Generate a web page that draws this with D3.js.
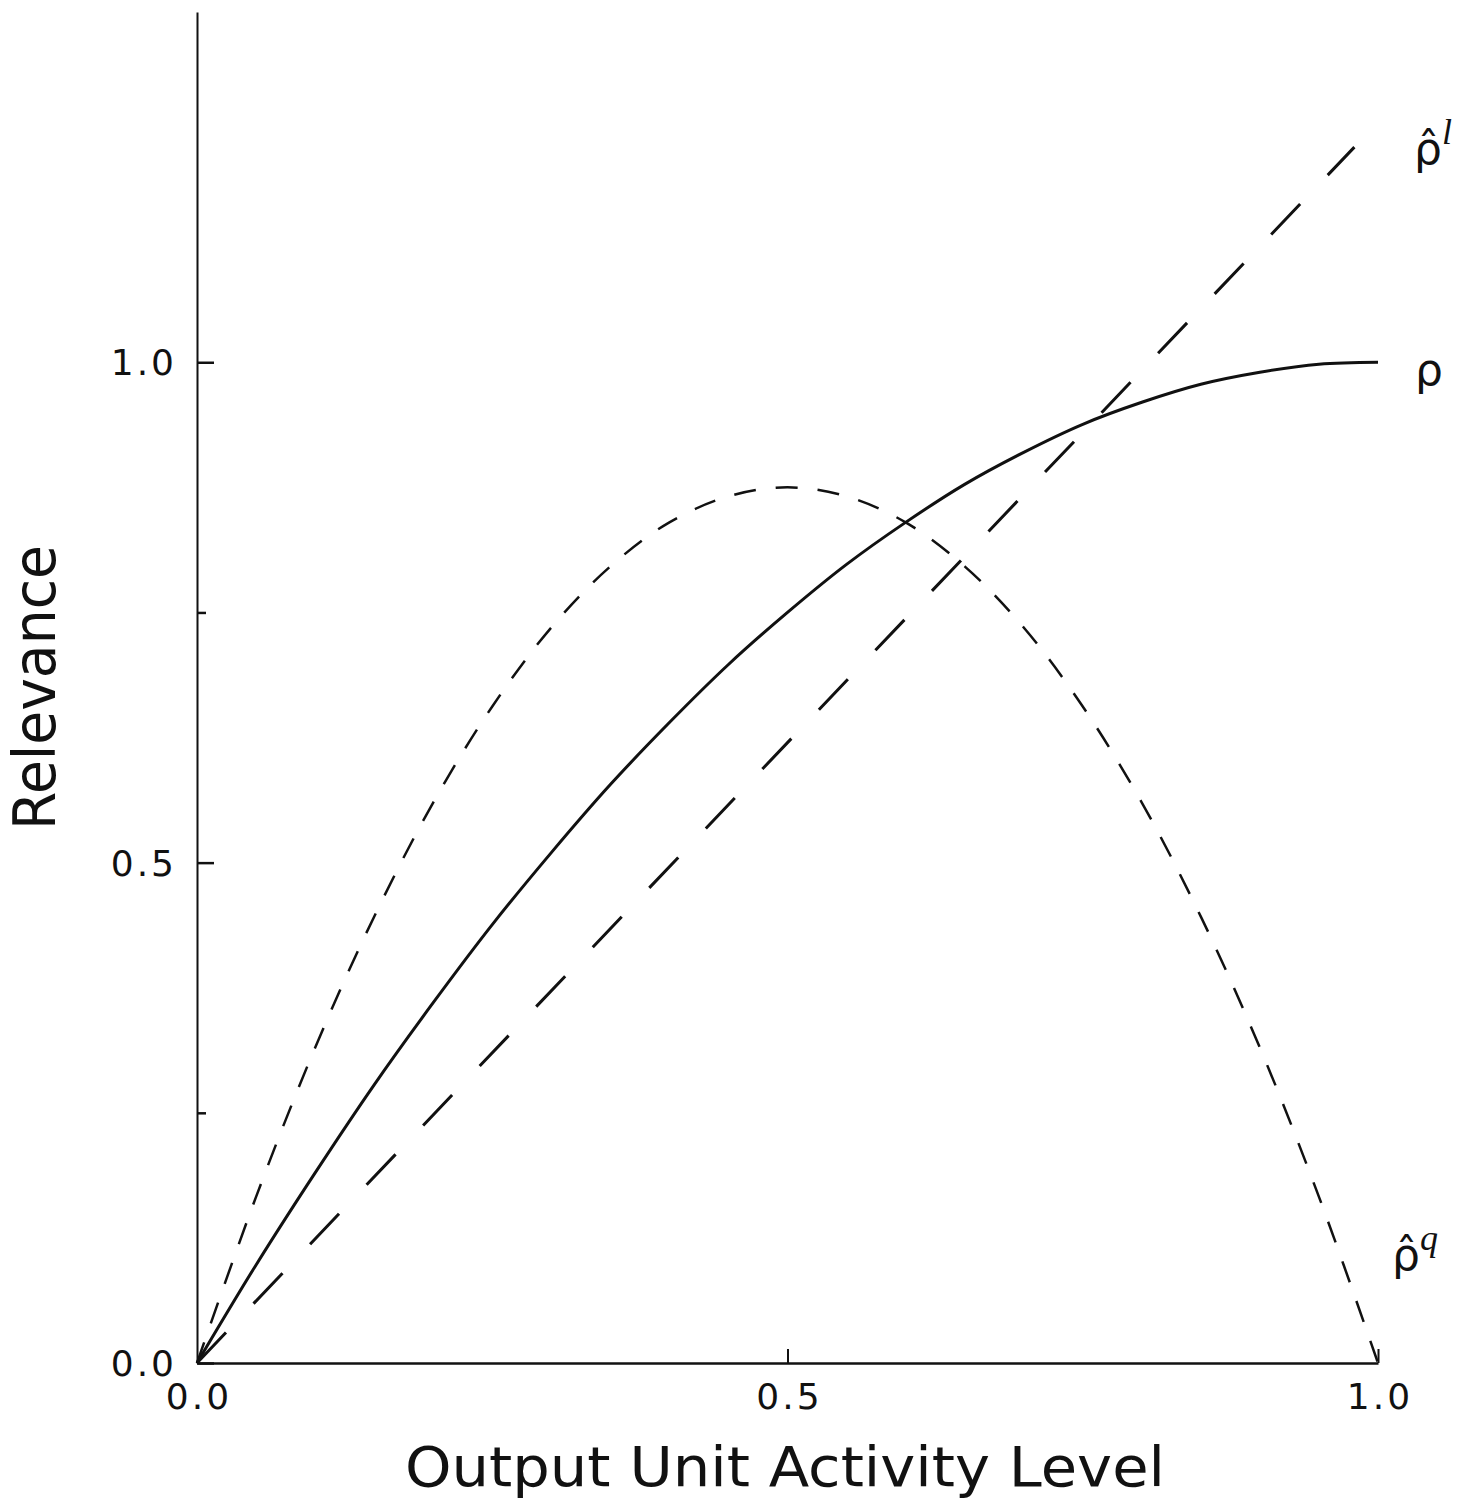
<!DOCTYPE html>
<html>
<head>
<meta charset="utf-8">
<script src="https://cdn.jsdelivr.net/npm/d3@7"></script>
<style>
  body { margin: 0; background: #fff; }
  text { font-family: "DejaVu Sans", sans-serif; fill: #111; }
</style>
</head>
<body>
<div id="chart-area"></div>
<script>
const WIDTH = 1462
const HEIGHT = 1498

// activity level samples
const activity = [0, 0.05, 0.1, 0.15, 0.2, 0.25, 0.3, 0.35, 0.4, 0.45, 0.5,
                  0.55, 0.6, 0.65, 0.7, 0.75, 0.8, 0.85, 0.9, 0.95, 1.0]
// rho (solid)
const rhoValues = [0, 0.098, 0.19, 0.278, 0.36, 0.438, 0.51, 0.578, 0.64, 0.698, 0.75,
                   0.798, 0.84, 0.878, 0.91, 0.938, 0.96, 0.978, 0.99, 0.998, 1.0]
// rho-hat q (short dashes)
const rhoQValues = [0, 0.166, 0.315, 0.446, 0.56, 0.656, 0.735, 0.796, 0.84, 0.866, 0.875,
                    0.866, 0.84, 0.796, 0.735, 0.656, 0.56, 0.446, 0.315, 0.166, 0]
// rho-hat l (long dashes)
const linActivity = [0, 0.98]
const rhoLValues = [0, 1.215]

const yTicksMajor = [0, 0.5, 1.0]
const yTicksMinor = [0.25, 0.75]
const xTicks = [0, 0.5, 1.0]

const svg = d3.select("#chart-area").append("svg")
    .attr("width", WIDTH)
    .attr("height", HEIGHT)

const x = d3.scaleLinear().domain([0, 1]).range([197, 1378])
const y = d3.scaleLinear().domain([0, 1.35]).range([1363, 12])

// y axis (ticks pointing inward)
svg.append("g")
    .attr("transform", `translate(${x(0)},0)`)
    .call(d3.axisLeft(y).tickValues(yTicksMajor).tickSizeInner(-17).tickSizeOuter(0).tickFormat(""))
    .call(g => g.select(".domain").attr("stroke", "#111").attr("stroke-width", 2))
    .call(g => g.selectAll(".tick line").attr("stroke", "#111").attr("stroke-width", 2.5))
svg.append("g")
    .attr("transform", `translate(${x(0)},0)`)
    .call(d3.axisLeft(y).tickValues(yTicksMinor).tickSizeInner(-9).tickSizeOuter(0).tickFormat(""))
    .call(g => g.select(".domain").remove())
    .call(g => g.selectAll(".tick line").attr("stroke", "#111").attr("stroke-width", 2.5))

// x axis
svg.append("g")
    .attr("transform", `translate(0,${y(0)})`)
    .call(d3.axisBottom(x).tickValues(xTicks.slice(1)).tickSizeInner(-14).tickSizeOuter(0).tickFormat(""))
    .call(g => g.select(".domain").attr("stroke", "#111").attr("stroke-width", 2.5))
    .call(g => g.selectAll(".tick line").attr("stroke", "#111").attr("stroke-width", 2))

// tick labels
svg.selectAll(".ylab").data(yTicksMajor).enter().append("text")
    .attr("class", "ylab")
    .attr("x", x(0) - 20)
    .attr("y", d => y(d) + 13)
    .attr("text-anchor", "end")
    .attr("font-size", 36)
    .attr("letter-spacing", 3)
    .text(d => d.toFixed(1))

svg.selectAll(".xlab").data(xTicks).enter().append("text")
    .attr("class", "xlab")
    .attr("x", d => x(d) + 2)
    .attr("y", y(0) + 46)
    .attr("text-anchor", "middle")
    .attr("font-size", 36)
    .attr("letter-spacing", 3)
    .text(d => d.toFixed(1))

// axis titles
svg.append("text")
    .attr("x", 405)
    .attr("y", 1486)
    .attr("font-size", 56)
    .attr("textLength", 760)
    .attr("lengthAdjust", "spacingAndGlyphs")
    .text("Output Unit Activity Level")

svg.append("text")
    .attr("transform", "translate(55,830) rotate(-90)")
    .attr("font-size", 58)
    .attr("textLength", 285)
    .attr("lengthAdjust", "spacingAndGlyphs")
    .text("Relevance")

// curves
const line = d3.line()
    .x(d => x(d[0]))
    .y(d => y(d[1]))
    .curve(d3.curveCatmullRom)

svg.append("path")
    .datum(activity.map((a, i) => [a, rhoValues[i]]))
    .attr("d", line)
    .attr("fill", "none")
    .attr("stroke", "#111")
    .attr("stroke-width", 3)

svg.append("path")
    .datum(activity.map((a, i) => [a, rhoQValues[i]]))
    .attr("d", line)
    .attr("fill", "none")
    .attr("stroke", "#111")
    .attr("stroke-width", 2.5)
    .attr("stroke-dasharray", "22,20")

svg.append("path")
    .datum(linActivity.map((a, i) => [a, rhoLValues[i]]))
    .attr("d", line)
    .attr("fill", "none")
    .attr("stroke", "#111")
    .attr("stroke-width", 3)
    .attr("stroke-dasharray", "42,40")

// curve labels
function hatLabel(px, py, sup) {
    const t = svg.append("text").attr("x", px).attr("y", py).attr("font-size", 44)
    t.append("tspan").text("ρ\u0302")
    t.append("tspan")
        .attr("dy", -20)
        .attr("font-family", "Liberation Serif, serif")
        .attr("font-style", "italic")
        .attr("font-size", 36)
        .text(sup)
}
hatLabel(1414, 164, "l")
hatLabel(1392, 1270, "q")

svg.append("text")
    .attr("x", 1415)
    .attr("y", 385)
    .attr("font-size", 44)
    .text("ρ")
</script>
</body>
</html>
